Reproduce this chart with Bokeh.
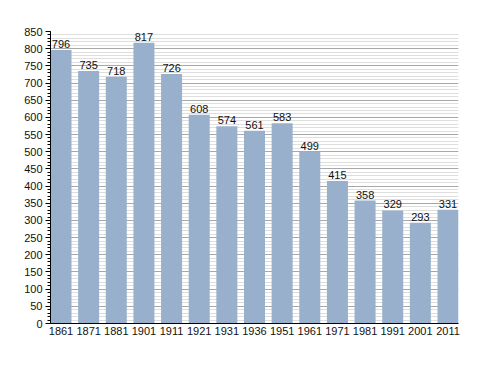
from bokeh.plotting import figure
from bokeh.models import ColumnDataSource, FixedTicker, Range1d, LabelSet
from bokeh.core.properties import value
from bokeh.embed import file_html
from bokeh.resources import INLINE

years = ["1861", "1871", "1881", "1901", "1911", "1921", "1931", "1936",
         "1951", "1961", "1971", "1981", "1991", "2001", "2011"]
population = [796, 735, 718, 817, 726, 608, 574, 561, 583, 499, 415, 358, 329, 293, 331]
y_ticks = list(range(0, 851, 50))

xs = list(range(len(years)))
src = ColumnDataSource(dict(x=xs, top=population, label=[str(v) for v in population]))

p = figure(width=478, height=363, output_backend="svg", toolbar_location=None,
           x_range=Range1d(-0.38, len(years) - 1 + 0.38), y_range=Range1d(0, 850),
           min_border_left=50, min_border_right=20, min_border_top=31, min_border_bottom=40)
p.outline_line_color = None
p.background_fill_color = "white"

p.vbar(x="x", top="top", width=0.76, bottom=0, source=src,
       fill_color="#98b0cc", line_color=None)

labels = LabelSet(x="x", y="top", text="label", source=src, text_align="center",
                  text_baseline="bottom", y_offset=2, text_font_size="11px",
                  text_font=value("Liberation Sans"), text_color="#111111")
p.add_layout(labels)

p.xaxis.ticker = FixedTicker(ticks=xs)
p.xaxis.major_label_overrides = {i: y for i, y in enumerate(years)}
p.xaxis.major_tick_out = 0
p.xaxis.major_tick_in = 0
p.xaxis.minor_tick_out = 0
p.xaxis.axis_line_color = "black"
p.xaxis.major_label_text_font_size = "11px"
p.xaxis.major_label_text_font = "Liberation Sans"
p.xaxis.major_label_text_color = "#111111"
p.xaxis.major_label_standoff = 3

p.yaxis.ticker = FixedTicker(ticks=y_ticks, minor_ticks=list(range(0, 851, 10)))
p.yaxis.major_tick_out = 5
p.yaxis.major_tick_in = 0
p.yaxis.minor_tick_out = 3
p.yaxis.minor_tick_in = 0
p.yaxis.axis_line_color = "black"
p.yaxis.major_label_text_font_size = "11px"
p.yaxis.major_label_text_font = "Liberation Sans"
p.yaxis.major_label_text_color = "#111111"
p.yaxis.major_label_standoff = 3

p.xgrid.grid_line_color = None
p.ygrid.grid_line_color = "#a8a8a8"
p.ygrid.minor_grid_line_color = "#dedede"

open("out.html", "w").write(file_html(p, INLINE))
